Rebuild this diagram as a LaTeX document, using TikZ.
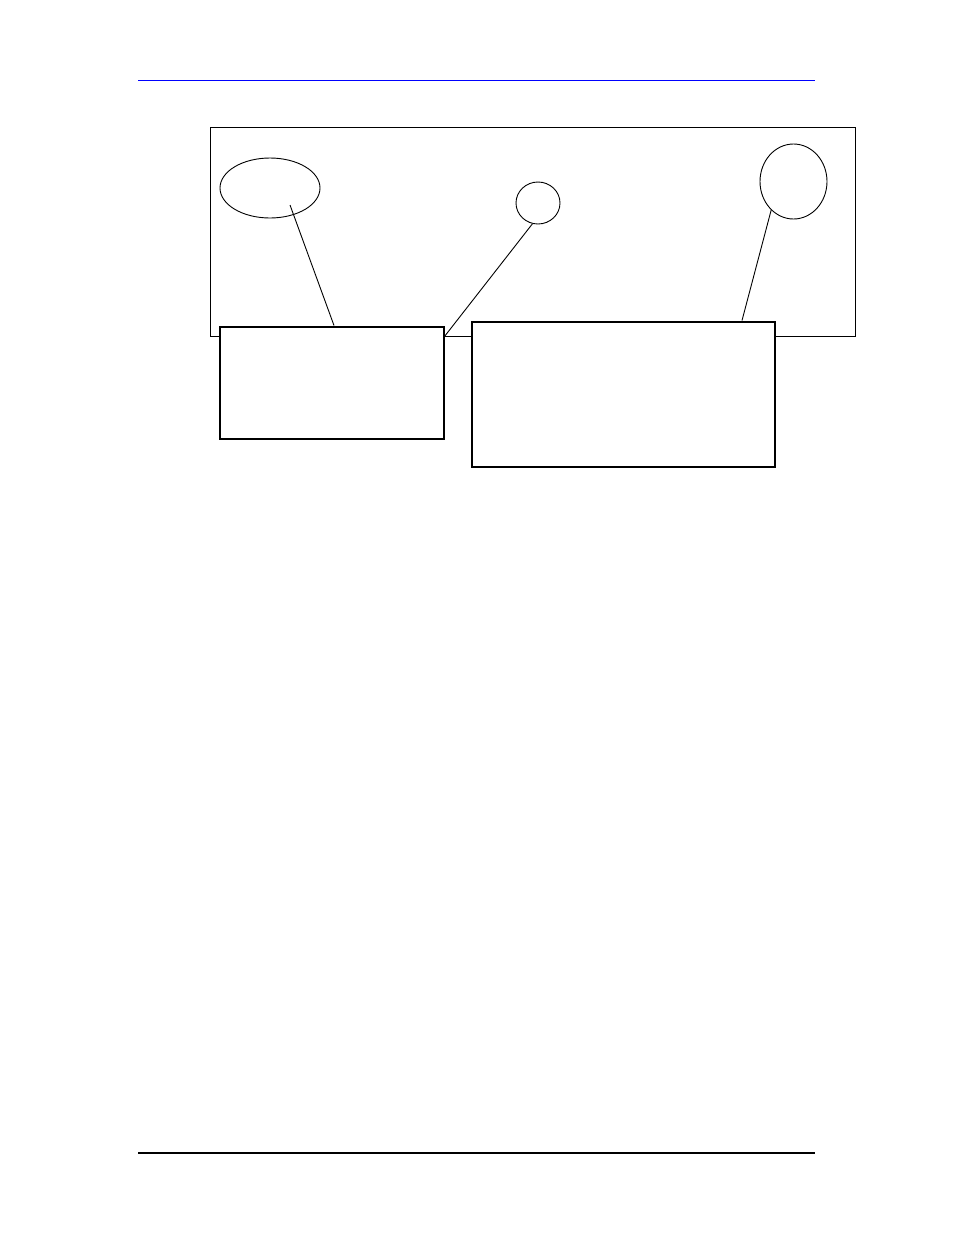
\documentclass[tikz,border=0pt]{standalone}
\usepackage{tikz}
\usetikzlibrary{calc,positioning,shapes.geometric}

\begin{document}
\begin{tikzpicture}[x=1pt, y=-1pt,
		oval/.style={draw, ellipse, line width=0.9pt, inner sep=0pt},
		callout/.style={draw, fill=white, line width=2pt, inner sep=0pt},
		leader/.style={line width=0.9pt}]
		%%%%% START %%%%%
		
		\useasboundingbox (0, 0) rectangle (954, 1235);
		
		\draw[line width=1pt, color=blue] (138, 80) -- (815, 80);
		\draw[line width=1.4pt] (138, 1153) -- (815, 1153);
		
		\node[draw, line width=0.9pt, inner sep=0pt, minimum width=645pt, minimum height=209pt] (frame) at (532.5, 231.5) {};
		
		\node[oval, minimum width=100pt, minimum height=60pt] (ovalL) at (270, 188) {};
		\node[oval, minimum width=44pt, minimum height=42pt] (ovalM) at (538, 203) {};
		\node[oval, minimum width=67pt, minimum height=75pt] (ovalR) at (793.5, 181.5) {};
		
		\node[callout, minimum width=224pt, minimum height=112pt] (boxL) at (331.5, 382.5) {};
		\node[callout, minimum width=303pt, minimum height=145pt] (boxR) at (623.5, 394) {};
		
		\coordinate (tipL) at ($(ovalL.center)+(20, 17)$);
		\coordinate (footM) at (boxL.east |- frame.south);
		
		\draw[leader] (tipL) -- ($(boxL.north)+(2.5, 0)$);
		\draw[leader] (ovalM.-105) -- (footM);
		\draw[leader] (ovalR.232) -- ($(boxR.north east)+(-34, 0)$);
		
		% boxes again on top of the frame
		\node[callout, minimum width=224pt, minimum height=112pt] at (boxL) {};
		\node[callout, minimum width=303pt, minimum height=145pt] at (boxR) {};
		
		%%%%% END %%%%%
\end{tikzpicture}
\end{document}
